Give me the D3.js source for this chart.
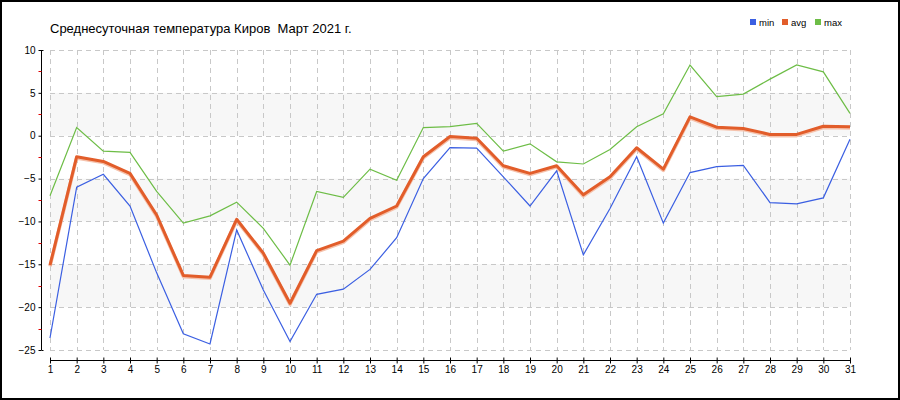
<!DOCTYPE html>
<html><head><meta charset="utf-8">
<script src="https://cdn.jsdelivr.net/npm/d3@7/dist/d3.min.js"></script>
<style>body{margin:0;background:#fff}svg{display:block}</style>
</head><body>
<script>
const days = d3.range(1, 32);
const minVals = [-23.6,-6.0,-4.5,-8.2,-16.0,-23.1,-24.3,-11.0,-18.0,-24.0,-18.5,-17.9,-15.6,-11.9,-5.0,-1.4,-1.45,-4.8,-8.2,-4.1,-13.9,-8.5,-2.45,-10.2,-4.3,-3.6,-3.45,-7.8,-7.95,-7.25,-0.4];
const avgVals = [-15.1,-2.45,-3.0,-4.4,-9.25,-16.3,-16.5,-9.75,-13.7,-19.55,-13.4,-12.3,-9.65,-8.2,-2.45,-0.1,-0.3,-3.5,-4.4,-3.5,-6.9,-4.8,-1.4,-3.9,2.2,1.0,0.85,0.15,0.15,1.1,1.05];
const maxVals = [-7.0,0.95,-1.8,-1.95,-6.5,-10.2,-9.35,-7.75,-10.8,-15.1,-6.5,-7.2,-3.9,-5.2,0.95,1.05,1.45,-1.8,-0.95,-3.05,-3.3,-1.6,1.05,2.55,8.25,4.55,4.85,6.6,8.25,7.45,2.6];
const yTicks = [10,5,0,-5,-10,-15,-20,-25];
const seriesNames = ["min","avg","max"];
const colors = {min:"#3b5fe2", avg:"#e25d2a", max:"#6dbd46"};
const title = "Среднесуточная температура Киров  Март 2021 г.";

const W = 900, H = 400;
const svg = d3.select("body").append("svg").attr("width", W).attr("height", H);
svg.append("rect").attr("x",1).attr("y",1).attr("width",W-2).attr("height",H-2)
  .attr("fill","#fff").attr("stroke","#000").attr("stroke-width",2);

const x = d3.scaleLinear().domain([1,31]).range([50,850]);
const y = d3.scaleLinear().domain([-25,10]).range([350,50]);

// bands
const bands = [[0,5],[-10,-5],[-20,-15]];
svg.append("g").selectAll("rect").data(bands).join("rect")
  .attr("x", x(1)).attr("width", x(31)-x(1))
  .attr("y", d => y(d[1])).attr("height", d => y(d[0]) - y(d[1]))
  .attr("fill", "#f7f7f7");

// grid
const grid = svg.append("g").attr("stroke","#c8c8c8").attr("stroke-dasharray","5,4").attr("stroke-width",1);
grid.selectAll("line.h").data(yTicks).join("line").attr("class","h")
  .attr("x1", x(1)).attr("x2", x(31))
  .attr("y1", d => Math.round(y(d))+0.5).attr("y2", d => Math.round(y(d))+0.5);
grid.selectAll("line.v").data(days).join("line").attr("class","v")
  .attr("x1", d => Math.round(x(d))+0.5).attr("x2", d => Math.round(x(d))+0.5)
  .attr("y1", y(10)).attr("y2", y(-25));

// y axis
const yAxis = d3.axisLeft(y).tickValues(yTicks).tickSize(3).tickPadding(3);
const gy = svg.append("g").attr("transform","translate(41.5,0)").call(yAxis);
gy.select(".domain").attr("d", `M0,${y(10)}V${y(-25)}`).attr("stroke","#000");
gy.selectAll("text").attr("font-family","Liberation Sans, Arial, sans-serif").attr("font-size",10).attr("fill","#000");
gy.append("g").selectAll("line").data(d3.range(-22.5, 10, 5)).join("line")
  .attr("x1",-3).attr("x2",0).attr("y1", d => Math.round(y(d))+0.5).attr("y2", d => Math.round(y(d))+0.5)
  .attr("stroke","#e00000");
gy.selectAll("line.cap").data([10,-25]).join("line").attr("class","cap")
  .attr("x1",0).attr("x2",2).attr("y1", d => y(d)+0.5).attr("y2", d => y(d)+0.5).attr("stroke","#000");

// x axis
const xAxis = d3.axisBottom(x).tickValues(days).tickFormat(d3.format("d")).tickSize(3).tickPadding(2);
const gx = svg.append("g").attr("transform","translate(0,360.5)").call(xAxis);
gx.select(".domain").attr("d", `M${x(1)},0H${x(31)}`).attr("stroke","#000");
gx.selectAll(".tick line").attr("y1",-3).attr("y2",3);
gx.selectAll("text").attr("font-family","Liberation Sans, Arial, sans-serif").attr("font-size",10).attr("fill","#000");

// lines
const line = d3.line().x((d,i) => x(days[i])).y(d => y(d));
svg.append("path").datum(minVals).attr("d", line).attr("fill","none").attr("stroke",colors.min).attr("stroke-width",1.2);
svg.append("path").datum(maxVals).attr("d", line).attr("fill","none").attr("stroke",colors.max).attr("stroke-width",1.2);
svg.append("path").datum(avgVals).attr("d", line).attr("fill","none").attr("stroke","#f5c2ac").attr("stroke-width",3.5)
  .attr("transform","translate(0,1.2)").attr("stroke-linejoin","round");
svg.append("path").datum(avgVals).attr("d", line).attr("fill","none").attr("stroke",colors.avg).attr("stroke-width",3)
  .attr("stroke-linejoin","round");

// title
svg.append("text").attr("x",50).attr("y",33).text(title)
  .style("white-space","pre").attr("xml:space","preserve")
  .attr("font-family","Liberation Sans, Arial, sans-serif").attr("font-size",13).attr("fill","#000");

// legend
const legendX = [750, 782, 815];
const lg = svg.append("g").selectAll("g").data(seriesNames).join("g")
  .attr("transform", (d,i) => `translate(${legendX[i]},19)`);
lg.append("rect").attr("width",6).attr("height",6).attr("fill", d => colors[d]);
lg.append("text").attr("x",9).attr("y",6.5).text(d => d)
  .attr("font-family","Liberation Sans, Arial, sans-serif").attr("font-size",9.5).attr("fill","#000");
</script>
</body></html>
